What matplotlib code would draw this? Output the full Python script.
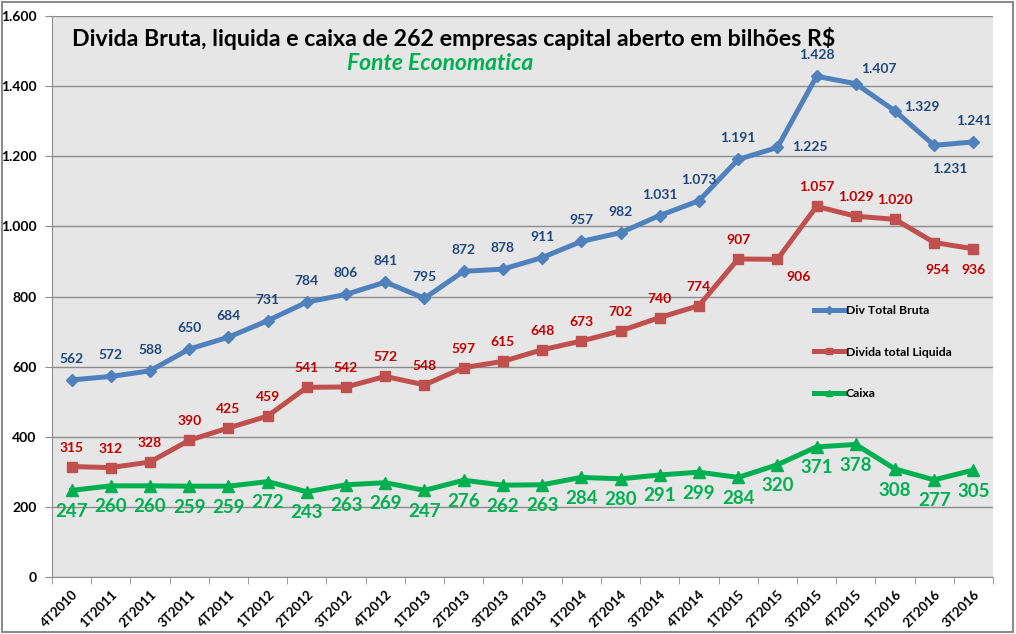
import matplotlib
matplotlib.use("Agg")
import matplotlib.pyplot as plt
from matplotlib.ticker import FuncFormatter, FixedLocator

# dados (bilhoes R$)
trimestres = ["4T2010", "1T2011", "2T2011", "3T2011", "4T2011", "1T2012", "2T2012", "3T2012",
              "4T2012", "1T2013", "2T2013", "3T2013", "4T2013", "1T2014", "2T2014", "3T2014",
              "4T2014", "1T2015", "2T2015", "3T2015", "4T2015", "1T2016", "2T2016", "3T2016"]
div_bruta = [562, 572, 588, 650, 684, 731, 784, 806, 841, 795, 872, 878, 911, 957, 982, 1031,
             1073, 1191, 1225, 1428, 1407, 1329, 1231, 1241]
div_liquida = [315, 312, 328, 390, 425, 459, 541, 542, 572, 548, 597, 615, 648, 673, 702, 740,
               774, 907, 906, 1057, 1029, 1020, 954, 936]
caixa = [247, 260, 260, 259, 259, 272, 243, 263, 269, 247, 276, 262, 263, 284, 280, 291,
         299, 284, 320, 371, 378, 308, 277, 305]

plt.rcParams['font.family'] = ['Lato', 'DejaVu Sans']

def fmt(v):
    return f"{int(v):,}".replace(",", ".")

fig = plt.figure(figsize=(10.16, 6.34), dpi=100)
ax = fig.add_axes([52/1016, 1-577/634, 941/1016, 561/634])
ax.set_facecolor("#E6E6E6")

x = list(range(len(trimestres)))
ax.plot(x, div_bruta, color="#4F81BD", lw=3.6, marker="D", ms=6.5, label="Div Total Bruta", zorder=3)
ax.plot(x, div_liquida, color="#C0504D", lw=3.6, marker="s", ms=6.5, label="Divida total Liquida", zorder=3)
ax.plot(x, caixa, color="#00B050", lw=3.6, marker="^", ms=8, label="Caixa", zorder=3)

# rotulos de dados (deslocamentos em pixels)
off_bruta = {18: (32, 0), 20: (23, 15), 21: (27, 4), 22: (16, -24)}
off_liq = {18: (21, -18), 22: (3, -27), 23: (0, -21)}
for i, v in enumerate(div_bruta):
    dx, dy = off_bruta.get(i, (0, 21))
    ax.annotate(fmt(v), (i, v), xytext=(dx, dy), textcoords="offset pixels",
                ha="center", va="center", color="#1F497D", fontsize=10, fontweight="bold")
for i, v in enumerate(div_liquida):
    dx, dy = off_liq.get(i, (0, 19))
    ax.annotate(fmt(v), (i, v), xytext=(dx, dy), textcoords="offset pixels",
                ha="center", va="center", color="#C00000", fontsize=10, fontweight="bold")
for i, v in enumerate(caixa):
    ax.annotate(fmt(v), (i, v), xytext=(0, -21), textcoords="offset pixels",
                ha="center", va="center", color="#00B050", fontsize=13.5, fontweight="bold")

ax.set_xlim(-0.5, len(trimestres) - 0.5)
ax.set_ylim(0, 1600)
ax.set_yticks(range(0, 1601, 200))
ax.yaxis.set_major_formatter(FuncFormatter(lambda v, p: fmt(v)))
ax.grid(axis="y", color="#8C8C8C", lw=1)
ax.set_axisbelow(True)

ax.set_xticks(x)
ax.set_xticklabels(trimestres, rotation=45, ha="right", va="top", rotation_mode="anchor",
                   fontsize=9.5, fontweight="bold")
ax.xaxis.set_minor_locator(FixedLocator([k - 0.5 for k in range(len(trimestres) + 1)]))
ax.tick_params(axis="x", which="major", length=0, pad=8)
ax.tick_params(axis="x", which="minor", length=5, color="#8C8C8C")
ax.tick_params(axis="y", length=5, color="#8C8C8C", labelsize=10, pad=6)
for t in ax.get_yticklabels():
    t.set_fontweight("bold")

for s in ["top", "right"]:
    ax.spines[s].set_visible(False)
for s in ["left", "bottom"]:
    ax.spines[s].set_color("#8C8C8C")

leg = ax.legend(loc="upper left", bbox_to_anchor=(814/1016, 1-305/634), bbox_transform=fig.transFigure,
                frameon=False, borderpad=0, borderaxespad=0, handlelength=2.5, handletextpad=0.1,
                labelspacing=2.5, markerscale=0.6, prop={"weight": "bold", "size": 8.8})

fig.text(72/1016, 1-38/634, "Divida Bruta, liquida e caixa de 262 empresas capital aberto em bilhões R$",
         ha="left", va="center", fontsize=16.7, fontweight="bold", color="black")
fig.text(440/1016, 1-64/634, "Fonte Economatica", ha="center", va="center", fontsize=16.5,
         fontweight="bold", style="italic", color="#00B050")

fig.patches.append(plt.Rectangle((0.002, 0.003), 0.995, 0.994, transform=fig.transFigure,
                                 fill=False, edgecolor="#8C8C8C", lw=1.5))

fig.savefig("out.png", dpi=100)
